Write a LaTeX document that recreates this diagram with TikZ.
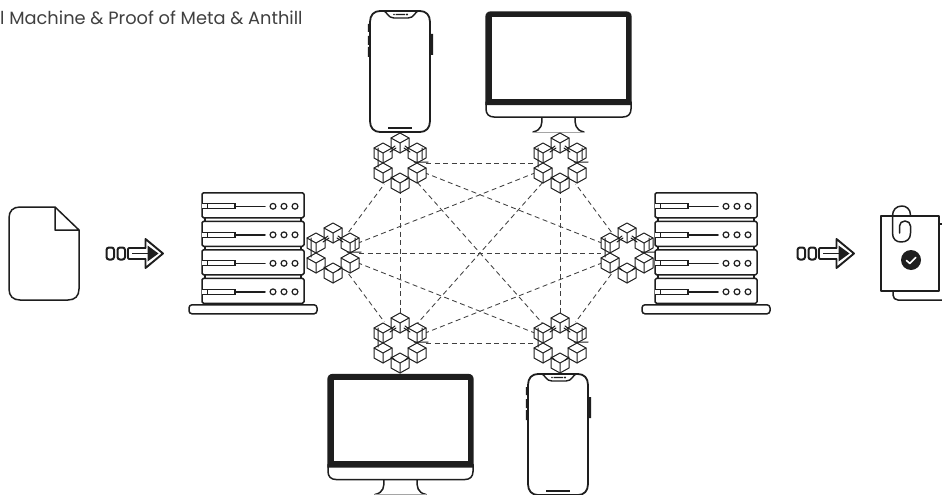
\documentclass[tikz,border=0pt]{standalone}
\usepackage{fontspec}
\setmainfont{Poppins}
\definecolor{ink}{HTML}{1E1E1E}
\tikzset{
  x=1pt,y=-1pt,
  ln/.style={draw=ink,line width=1.5pt,line join=round,line cap=round},
  thin ln/.style={draw=ink,line width=1pt,line join=round,line cap=round},
  hub/.style={circle,minimum size=52pt,inner sep=0pt},
  link/.style={draw=ink!85,line width=0.85pt,dash pattern=on 5pt off 3.5pt},
  label text/.style={text=ink!85,font=\fontsize{17.8}{20}\selectfont,inner sep=0pt,anchor=base west},
  cube/.pic={
    \path[fill=white,thin ln] (0,-10)--(9,-5)--(9,5)--(0,10)--(-9,5)--(-9,-5)--cycle;
    \path[thin ln] (-9,-5)--(0,0)--(9,-5) (0,0)--(0,10);
  },
  cubes/.pic={
    \pic at (0,-20) {cube};
    \pic at (-17,-10) {cube};
    \pic at (17,-10) {cube};
    \pic at (-17,10) {cube};
    \pic at (17,10) {cube};
    \pic at (0,20) {cube};
    \path[thin ln] (-9,-14)--(-5,-17) (9,-14)--(5,-17) (-9,14)--(-5,17) (9,14)--(5,17)
      (-22,-15)--(-22,4) (22,-15)--(22,-4) (14,-1)--(28,-1)
      (-10,-11)--(-4,-15) (10,-11)--(4,-15);
  },
  phone/.pic={
    \path[fill=ink] (-2.2,13) rectangle (0,21) (-2.2,25) rectangle (0,34) (-2.2,36) rectangle (0,46) (60,23) rectangle (63,44);
    \path[ln,line width=1.8pt,fill=white] (10,0) -- (50,0) .. controls (56,0) and (60,4) .. (60,11) -- (60,110) .. controls (60,117) and (56,121) .. (50,121) -- (10,121) .. controls (4,121) and (0,117) .. (0,110) -- (0,11) .. controls (0,4) and (4,0) .. (10,0) -- cycle;
    \path[ln,line width=1.4pt] (14,0) .. controls (17,1) and (18,7) .. (24,7) -- (38,7) .. controls (44,7) and (45,1) .. (48,0);
    \path[fill=ink] (18,116.3) rectangle (42,117.8);
    \path[fill=ink] (24,3.5) circle (0.8) (25.5,2.8) rectangle (35,4.2) (37,3.5) circle (1.2);
  },
  monitor/.pic={
    \path[ln,fill=white] (56,105) .. controls (56,112) and (56,118) .. (47,120) (89,105) .. controls (89,112) and (89,118) .. (98,120);
    \path[draw=ink!40,line width=0.7pt] (47,120) -- (98,120);
    \path[ln,fill=white] (0,90) -- (0,97) .. controls (0,102) and (3,105) .. (8,105) -- (137,105) .. controls (142,105) and (145,102) .. (145,97) -- (145,90) -- cycle;
    \path[fill=ink] (-.7,93) -- (-.7,5) .. controls (-.7,1.5) and (1.5,-.7) .. (5,-.7) -- (140,-.7) .. controls (143.5,-.7) and (145.7,1.5) .. (145.7,5) -- (145.7,93) -- cycle;
    \path[fill=white] (5.5,5.5) rectangle (139.5,86.5);
  },
  rackunit/.pic={
    \path[ln,fill=white,rounded corners=1.5pt] (0,0) rectangle (102,25);
    \path[draw=ink,line width=1.3pt,fill=white] (0,11) -- (33,11) -- (33,16) -- (0,16);
    \path[draw=ink,line width=1.2pt] (5.5,11) -- (5.5,16);
    \path[ln] (33,13.5) -- (63,13.5);
    \path[draw=ink,line width=1.2pt] (71,13.5) circle (2.9) (82,13.5) circle (2.9) (93,13.5) circle (2.9);
  },
  rack/.pic={
    \path[ln] (3,25) -- (3,29) (99,25) -- (99,29) (3,54) -- (3,57) (99,54) -- (99,57) (3,82) -- (3,85) (99,82) -- (99,85);
    \pic at (0,0) {rackunit};
    \pic at (0,28.5) {rackunit};
    \pic at (0,57) {rackunit};
    \pic at (0,85.5) {rackunit};
    \path[ln,fill=white,rounded corners=3pt] (-13,112) rectangle (115,121);
  },
  flow/.pic={
    \path[ln,line width=2pt,rounded corners=2.5pt] (0.5,0.5) rectangle (8,12.5) (11.5,0.5) rectangle (19,12.5);
    \path[ln,line width=1.9pt,rounded corners=1pt] (39.5,1) -- (22,1) -- (22,12) -- (39.5,12);
    \path[ln,line width=1.9pt] (39.5,1) -- (39.5,-8) -- (57,6.5) -- (39.5,21) -- (39.5,12);
    \path[fill=ink] (41.5,-1.5) -- (52.5,6.5) -- (41.5,14.5) -- cycle;
    \path[draw=ink,line width=1.6pt] (26,6.5) -- (42,6.5);
  }
}
\begin{document}
\begin{tikzpicture}[x=1pt,y=-1pt]
\useasboundingbox (0,0) rectangle (942,495);
\path[fill=white] (0,0) rectangle (942,495);
\node[label text] (caption) at (0,25) {l Machine \& Proof of Meta \& Anthill};

\pic at (370,11) {phone};
\pic at (486,12) {monitor};
\pic at (328,374.5) {monitor};
\pic at (528,374) {phone};

\node[hub] (tl) at (400,163) {};
\node[hub] (tr) at (560,163) {};
\node[hub] (l) at (333,253) {};
\node[hub] (r) at (627,253) {};
\node[hub] (bl) at (400,343) {};
\node[hub] (br) at (560,343) {};
\foreach \a/\b in {tl/tr,bl/br,tl/bl,tr/br,tl/br,tr/bl,l/r,l/tl,l/bl,r/tr,r/br,l/tr,l/br,r/tl,r/bl}
  \draw[link] (\a) -- (\b);

\pic at (202,192.8) {rack};
\pic at (655,192.8) {rack};
\pic at (400,163) {cubes};
\pic at (560,163) {cubes};
\pic at (333,253) {cubes};
\pic at (627,253) {cubes};
\pic at (400,343) {cubes};
\pic at (560,343) {cubes};

% source document
\path[ln] (55,207) -- (20,207) .. controls (13,207) and (9,211) .. (9,218) -- (9,289) .. controls (9,296) and (13,300) .. (20,300) -- (68,300) .. controls (75,300) and (79,296) .. (79,289) -- (79,230) -- (55,207) -- (55,230) -- (79,230);

\pic at (106,247) {flow};
\pic at (797,247) {flow};

% signed document
\path[ln] (939,224) -- (942,224);
\path[ln] (893,291) -- (893,295) .. controls (893,298) and (895,300) .. (898,300) -- (942,300);
\path[ln,fill=white] (881,216) rectangle (939,291);
\path[ln] (910.5,215) .. controls (910.5,209) and (906,206) .. (902,206) .. controls (896,206) and (892.5,210) .. (892.5,216) -- (892.5,233) .. controls (892.5,239) and (896,242) .. (901,242) .. controls (907,242) and (910.5,239) .. (910.5,233) -- (910.5,226) .. controls (910.5,223) and (908,221) .. (905,221) .. controls (902,221) and (899.5,223) .. (899.5,226) -- (899.5,233);
\path[fill=ink] (911,260) circle (10);
\path[draw=white,line width=1.6pt,line cap=round,line join=round] (906.5,260.5) -- (909.8,263.5) -- (915.8,257.5);
\end{tikzpicture}
\end{document}
